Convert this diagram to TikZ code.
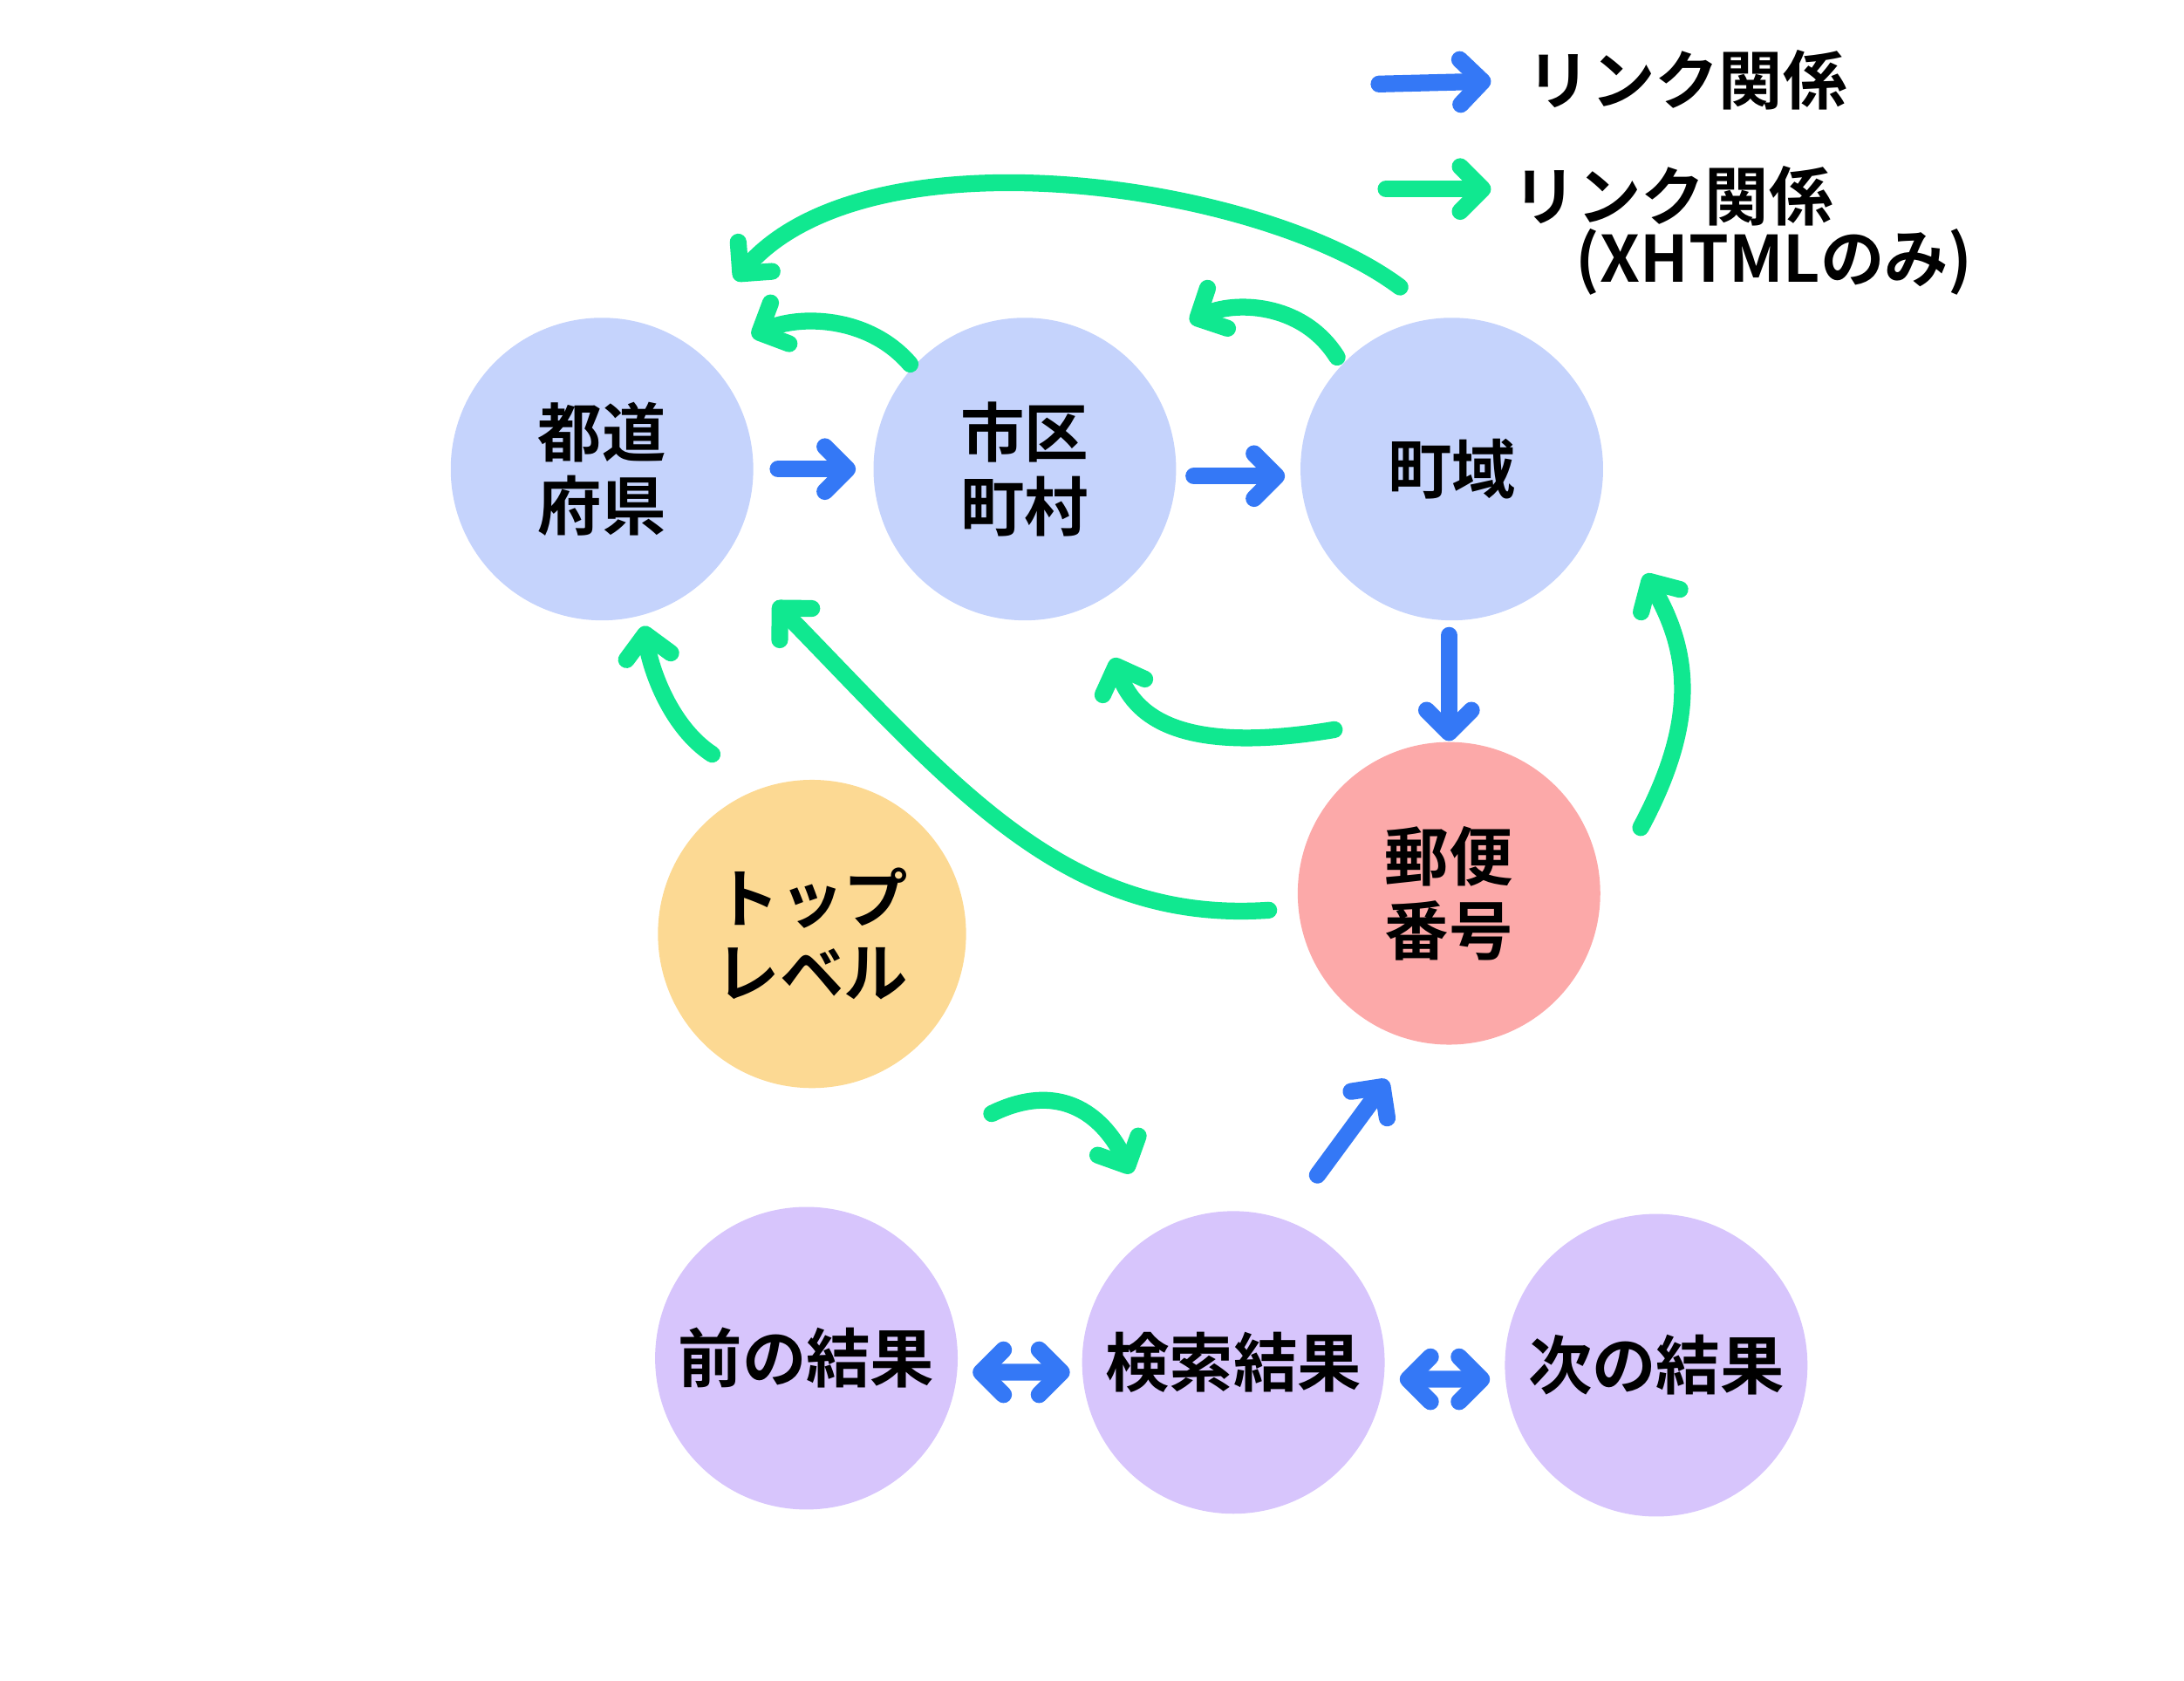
\documentclass[tikz,border=0pt]{standalone}
\usepackage{fontspec}
\setmainfont{Noto Sans CJK JP}[BoldFont={* Bold}]
\usetikzlibrary{arrows.meta}
\definecolor{cb}{HTML}{C5D3FC}
\definecolor{cp}{HTML}{FCA9A9}
\definecolor{cy}{HTML}{FCD993}
\definecolor{cv}{HTML}{D7C5FC}
\definecolor{ab}{HTML}{3478F6}
\definecolor{ag}{HTML}{10E890}
\begin{document}
\begin{tikzpicture}[x=0.01cm,y=-0.01cm,
  circ/.style={circle,minimum size=2.16cm,inner sep=0pt,align=center,font=\fontsize{13}{15}\selectfont\bfseries},
  tip/.style={-{Straight Barb[round,length=0.16cm,width=0.32cm,line width=0.12cm]},line width=0.12cm,line cap=round},
  blu/.style={tip,ab},
  grn/.style={tip,ag},
  dbl/.style={{Straight Barb[round,length=0.16cm,width=0.32cm,line width=0.12cm]}-{Straight Barb[round,length=0.16cm,width=0.32cm,line width=0.12cm]},line width=0.12cm,line cap=round,ab},
  lab/.style={anchor=west,inner sep=0pt,font=\fontsize{13}{15}\selectfont\bfseries}]
\useasboundingbox (0,0) rectangle (1560,1200);
\node[circ,fill=cb] (pref) at (430,335) {都道\\府県};
\node[circ,fill=cb] (city) at (732,335) {市区\\町村};
\node[circ,fill=cb] (town) at (1037,335) {町域};
\node[circ,fill=cp] (zip) at (1035,638) {郵便\\番号};
\node[circ,fill=cy,minimum size=2.2cm] (top) at (580,667) {トップ\\レベル};
\node[circ,fill=cv] (prev) at (576,970) {前の結果};
\node[circ,fill=cv] (res) at (881,973) {検索結果};
\node[circ,fill=cv] (next) at (1183,975) {次の結果};
% blue
\draw[blu] ([xshift=-0.08cm]pref.east) ++(25,0) coordinate (b1) -- ([xshift=-0.12cm]city.west);
\draw[blu] (city.east) ++(12,5) -- ++(65,0) coordinate (b2);
\draw[blu] (town.south) ++(-2,10) -- (zip.north);
\draw[blu] (res.north) ++(60,-25) -- ++(50,-68) coordinate (b3);
\draw[dbl] (prev.east) ++(10,10) -- ([xshift=-0.08cm,yshift=-0.07cm]res.west);
\draw[dbl] (res.east) ++(10,12) -- ([xshift=-0.1cm,yshift=-0.1cm]next.west);
% green
\coordinate (g1s) at (1000,205); \coordinate (g1e) at (525,200);
\draw[grn] (g1s) .. controls (900,130) and (620,90) .. (g1e);
\draw[grn] (city.north west) ++(-5,2) .. controls (620,225) and (570,225) .. (537,240);
\draw[grn] (town.north west) ++(-5,-3) .. controls (930,215) and (880,215) .. (850,230);
\draw[grn] (top.north west) ++(7,-50) .. controls (480,520) and (465,480) .. (460,447);
\draw[grn] (zip.west) ++(-20,12) .. controls (760,660) and (680,560) .. (553,430);
\draw[grn] (zip.north west) ++(-5,-40) .. controls (840,540) and (810,510) .. (795,470);
\draw[grn] (zip.north east) ++(60,30) .. controls (1210,520) and (1210,470) .. (1175,410);
\draw[grn] (top.south east) ++(50,50) .. controls (760,770) and (790,800) .. (808,838);
% legend
\coordinate (l1) at (985,60); \coordinate (l2) at (990,135);
\draw[blu] (l1) -- ++(80,-2);
\draw[grn] (l2) -- ++(75,0);
\node[lab] at (1090,57) {リンク関係};
\node[lab] at (1080,140) {リンク関係};
\node[lab] at (1125,187) {(XHTMLのみ)};
\end{tikzpicture}
\end{document}
